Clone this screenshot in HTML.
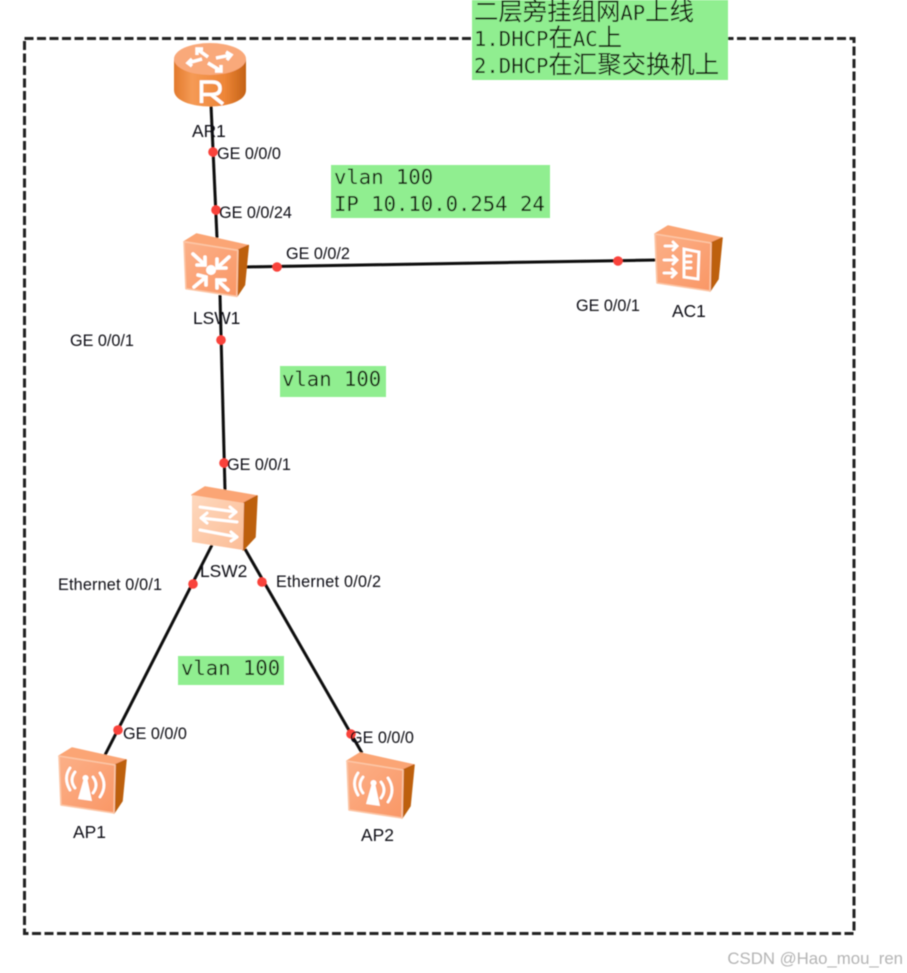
<!DOCTYPE html>
<html>
<head>
<meta charset="utf-8">
<style>
html,body{margin:0;padding:0;background:#fff;width:907px;height:973px;overflow:hidden}
svg{display:block;position:absolute;left:0;top:0}
.l{font-family:"Liberation Sans",sans-serif;font-size:16.2px;fill:#0e0e18}
.d{font-family:"Liberation Sans",sans-serif;font-size:17.4px;fill:#0e0e18}
.m{font-family:"DejaVu Sans Mono","Liberation Mono",monospace;font-size:20.6px;fill:#141c10}
.c{font-family:"DejaVu Sans Mono","Noto Sans CJK SC",monospace;font-size:24.4px}
</style>
</head>
<body>
<svg width="907" height="973" viewBox="0 0 907 973" xmlns="http://www.w3.org/2000/svg">
<defs>
<filter id="b" x="-5%" y="-5%" width="110%" height="110%"><feGaussianBlur stdDeviation="0.45"/></filter>
<linearGradient id="cyl" x1="0" x2="1" y1="0" y2="0">
<stop offset="0" stop-color="#e27a2c"/><stop offset=".25" stop-color="#f59a55"/><stop offset=".7" stop-color="#ee8638"/><stop offset="1" stop-color="#c46216"/>
</linearGradient>
<linearGradient id="front" x1="0" x2="1" y1="0" y2="1">
<stop offset="0" stop-color="#fcb088"/><stop offset="1" stop-color="#f99766"/>
</linearGradient>
<linearGradient id="frontL" x1="0" x2="1" y1="0" y2="1">
<stop offset="0" stop-color="#fed8bd"/><stop offset="1" stop-color="#fcbd97"/>
</linearGradient>
<g id="box">
<polygon points="0,8 13,0 67,12 57,17" fill="#fba574" stroke="#fba574" stroke-width="1.5" stroke-linejoin="round"/>
<polygon points="56,17 67,12 63,53 55,65" fill="#bd6010" stroke="#bd6010" stroke-width="1.5" stroke-linejoin="round"/>
<polygon points="0,8 56,17 55,65 2,57" fill="url(#front)" stroke="#fcc6a6" stroke-width="1.6" stroke-linejoin="round"/>
</g>
<g id="boxL">
<polygon points="0,8 13,0 65,9 52,16" fill="#fba574" stroke="#fba574" stroke-width="1.5" stroke-linejoin="round"/>
<polygon points="52,16 65,9 63,50 51,63" fill="#bd6010" stroke="#bd6010" stroke-width="1.5" stroke-linejoin="round"/>
<polygon points="0,8 52,16 51,63 0,55" fill="url(#frontL)"/>
</g>
<g id="ap">
<use href="#box"/>
<g fill="none" stroke="#fff" stroke-width="2.800" stroke-linecap="round">
<path d="M11 20 Q4 30 11 42"/><path d="M16 24 Q10 32 16 40"/>
<path d="M41 25 Q49 37 41 49"/><path d="M34 29 Q40 37 34 45"/>
</g>
<polygon points="25,30 28,30 33,53 19,51" fill="#fff"/>
<circle cx="26.500" cy="30" r="3" fill="#fff"/>
</g>
</defs>

<g filter="url(#b)">
<!-- links -->
<g stroke="#0c0c0c" stroke-width="3" fill="none">
<line x1="211" y1="105" x2="217" y2="238"/>
<line x1="245" y1="267" x2="656" y2="260"/>
<line x1="220" y1="295" x2="225" y2="490"/>
<line x1="212" y1="545" x2="105" y2="755"/>
<line x1="245" y1="549" x2="362" y2="753"/>
</g>

<!-- border -->
<rect x="24.500" y="38.500" width="829.500" height="895" fill="none" stroke="#222" stroke-width="3" stroke-dasharray="9 3.500"/>

<!-- green boxes -->
<rect x="472" y="0" width="256" height="80" fill="#90ee90"/>
<rect x="331" y="165" width="219" height="53" fill="#90ee90"/>
<rect x="280" y="366" width="106" height="31" fill="#90ee90"/>
<rect x="178" y="656" width="106" height="29" fill="#90ee90"/>

<!-- router -->
<path d="M174 59 V90 C174 112 246 112 246 90 V59 Z" fill="url(#cyl)"/>
<ellipse cx="210" cy="59" rx="36" ry="16" fill="#f9a97a"/>
<g fill="none" stroke="#fff" stroke-width="3.400">
<path d="M197 49 L208 57 M197 55 L197 49 L203 49"/>
<path d="M216 58 L231 55 M226 52 L231 55 L227 60"/>
<path d="M188 63 L202 59 M192 66 L188 63 L192 59"/>
<path d="M208 63 L221 71 M221 65 L221 71 L215 71"/>
</g>
<path d="M201.500 103 V82 H212 Q220 82 220 88.500 Q220 94.500 212 94.500 H201.500 M211 94.500 L223 104" fill="none" stroke="#fff" stroke-width="3.600"/>

<!-- LSW1 -->
<use href="#box" transform="translate(184,234) scale(.96)"/>
<g fill="none" stroke="#fff" stroke-width="3.600" stroke-linecap="round" transform="translate(170,225)">
<path d="M23 29 L35 40 M35 32 L35 40 L27 40"/>
<path d="M59 32 L47 43 M47 34 L47 43 L56 43"/>
<path d="M24 62 L36 52 M28 50 L36 52 L36 60"/>
<path d="M58 65 L47 55 M47 63 L47 55 L55 55"/>
</g>
<circle cx="211" cy="270" r="5" fill="#fff"/>

<!-- AC1 -->
<use href="#box" transform="translate(655,226)"/>
<g fill="none" stroke="#fff" stroke-width="2.800" stroke-linecap="round" transform="translate(640,215)">
<path d="M25 31 H37 M33 27 L37 31 L33 35"/>
<path d="M24 45 H37 M33 41 L37 45 L33 49"/>
<path d="M24 58 H36 M32 54 L36 58 L32 62"/>
<path d="M44 34 L59 37 L58 64 L44 62 Z"/>
<path d="M46 41 H51 M46 47 H51 M46 53 H51"/>
</g>

<!-- LSW2 -->
<use href="#boxL" transform="translate(192,487)"/>
<g fill="none" stroke="#fff" stroke-width="3" stroke-linecap="round" stroke-linejoin="round" transform="translate(180,480)">
<path d="M20 27 L56 32 M50 27 L56 32 L50 37"/>
<path d="M57 42 L21 38 M27 33 L21 38 L27 43"/>
<path d="M20 50 L57 57 M51 52 L57 57 L51 61"/>
</g>

<!-- APs -->
<use href="#ap" transform="translate(59,748)"/>
<use href="#ap" transform="translate(347,753)"/>

<!-- dots -->
<g fill="#f9423a">
<circle cx="213" cy="152" r="4.800"/>
<circle cx="216" cy="210" r="4.800"/>
<circle cx="277" cy="267" r="4.800"/>
<circle cx="618" cy="261" r="4.800"/>
<circle cx="221" cy="340" r="4.800"/>
<circle cx="224" cy="463" r="4.800"/>
<circle cx="193" cy="584" r="4.800"/>
<circle cx="262" cy="582" r="4.800"/>
<circle cx="118" cy="730" r="4.800"/>
<circle cx="351" cy="734" r="4.800"/>
</g>

<!-- port labels -->
<text class="l" x="217" y="159">GE 0/0/0</text>
<text class="l" x="219" y="218">GE 0/0/24</text>
<text class="l" x="286" y="259">GE 0/0/2</text>
<text class="l" x="576" y="311">GE 0/0/1</text>
<text class="l" x="70" y="346">GE 0/0/1</text>
<text class="l" x="227" y="470">GE 0/0/1</text>
<text class="l" x="58" y="590" textLength="104">Ethernet 0/0/1</text>
<text class="l" x="276" y="587" textLength="105">Ethernet 0/0/2</text>
<text class="l" x="123" y="739">GE 0/0/0</text>
<text class="l" x="350" y="743">GE 0/0/0</text>

<!-- device labels -->
<text class="d" x="192" y="137">AR1</text>
<text class="d" x="193" y="324">LSW1</text>
<text class="d" x="672" y="317">AC1</text>
<text class="d" x="200" y="577">LSW2</text>
<text class="d" x="73" y="838">AP1</text>
<text class="d" x="361" y="841">AP2</text>

<!-- notes -->
<text class="m" x="474" y="20"><tspan class="c">二层旁挂组网</tspan>AP<tspan class="c">上线</tspan></text>
<text class="m" x="474" y="46">1.DHCP<tspan class="c">在</tspan>AC<tspan class="c">上</tspan></text>
<text class="m" x="474" y="73">2.DHCP<tspan class="c">在汇聚交换机上</tspan></text>
<text class="m" x="334" y="184">vlan 100</text>
<text class="m" x="334" y="211">IP 10.10.0.254 24</text>
<text class="m" x="282" y="386">vlan 100</text>
<text class="m" x="181" y="675">vlan 100</text>

<!-- watermark -->
<text x="903" y="964" text-anchor="end" font-family="Liberation Sans, sans-serif" font-size="16.800" fill="#b4b4b4">CSDN @Hao_mou_ren</text>
</g>
</svg>
</body>
</html>
